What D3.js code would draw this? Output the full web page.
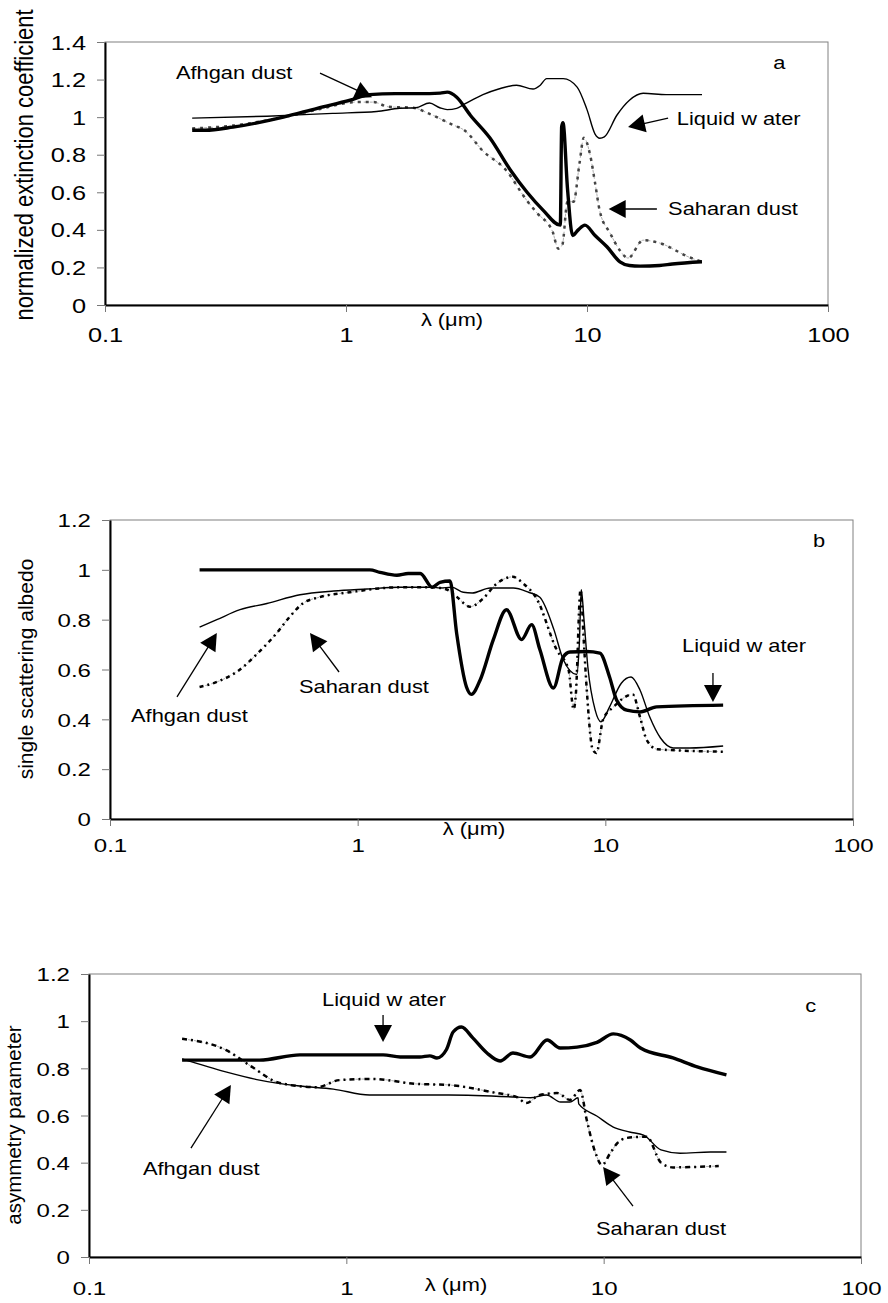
<!DOCTYPE html>
<html>
<head>
<meta charset="utf-8">
<script src="https://cdnjs.cloudflare.com/ajax/libs/d3/7.8.5/d3.min.js"></script>
<style>
  body { margin: 0; background: #fff; }
  svg { display: block; font-family: "Liberation Sans", Arial, sans-serif; }
</style>
</head>
<body>
<div id="chart"></div>
<script>

// panel a - normalized extinction coefficient
var extThick = [[0.23,0.93],[0.26,0.93],[0.34,0.947],[0.55,1.0],[0.76,1.047],[1.04,1.09],[1.25,1.12],[1.6,1.125],[2.0,1.125],
  [2.46,1.128],[2.63,1.133],[2.88,1.106],[3.28,1.01],[3.95,0.89],[4.8,0.72],[5.64,0.6],[6.57,0.505],[7.75,0.425],
  [7.85,0.95],[7.95,0.97],[8.3,0.62],[8.72,0.37],[9.2,0.4],[9.8,0.425],[10.8,0.37],[12.1,0.31],[13.7,0.23],
  [15.0,0.21],[16.6,0.207],[20,0.21],[22.6,0.218],[30,0.23]];
var extThin = [[0.23,0.995],[0.47,1.005],[0.88,1.02],[1.34,1.03],[1.67,1.047],[1.95,1.05],[2.22,1.075],[2.45,1.05],
  [2.63,1.04],[2.88,1.047],[3.11,1.07],[3.7,1.12],[4.3,1.15],[5.1,1.17],[5.97,1.15],[6.4,1.17],[6.8,1.205],[7.97,1.205],
  [9.1,1.16],[10,1.04],[10.8,0.91],[11.3,0.888],[11.8,0.895],[13.3,1.01],[15.0,1.09],[17.1,1.127],[21.3,1.12],[30,1.12]];
var extDotted = [[0.23,0.94],[0.34,0.955],[0.55,1.0],[0.76,1.04],[1.1,1.08],[1.3,1.08],[1.5,1.055],[1.9,1.05],[2.2,1.02],
  [2.76,0.96],[3.1,0.93],[3.7,0.82],[4.6,0.72],[5.6,0.56],[6.2,0.49],[7.2,0.39],[7.6,0.3],[7.9,0.32],[8.3,0.55],
  [8.8,0.55],[9.3,0.75],[9.7,0.89],[10.3,0.8],[10.8,0.65],[11.3,0.5],[12.5,0.38],[13.7,0.29],[14.8,0.25],[17.1,0.345],
  [20,0.33],[26.5,0.255],[30,0.23]];

// panel b - single scattering albedo
var albThick = [[0.23,1.0],[0.6,1.0],[1.12,1.0],[1.23,0.99],[1.44,0.978],[1.6,0.985],[1.79,0.985],[2.0,0.93],[2.15,0.95],
  [2.36,0.955],[2.51,0.745],[2.75,0.53],[2.88,0.5],[3.12,0.557],[3.53,0.72],[3.99,0.84],[4.59,0.72],[5.04,0.78],
  [5.44,0.68],[6.17,0.526],[6.76,0.65],[7.2,0.67],[8.4,0.672],[9.5,0.666],[10.4,0.57],[11.1,0.478],[12.2,0.437],
  [13.8,0.43],[16.1,0.45],[29.9,0.457]];
var albThin = [[0.23,0.77],[0.27,0.8],[0.335,0.84],[0.43,0.865],[0.585,0.9],[0.8,0.915],[1.09,0.923],[1.48,0.93],[2.0,0.93],
  [2.15,0.927],[2.4,0.93],[2.67,0.91],[2.9,0.907],[3.43,0.927],[4.25,0.927],[4.9,0.91],[5.44,0.89],[6.2,0.76],[6.76,0.64],
  [7.67,0.58],[7.85,0.7],[8.0,0.92],[8.2,0.8],[8.5,0.61],[9.1,0.437],[9.6,0.39],[10.4,0.45],[11.6,0.545],[12.7,0.57],
  [13.8,0.518],[15.1,0.41],[16.7,0.325],[18.8,0.285],[21.9,0.285],[29.9,0.293]];
var albDotted = [[0.23,0.53],[0.27,0.55],[0.335,0.6],[0.39,0.66],[0.47,0.745],[0.53,0.81],[0.6,0.865],[0.7,0.89],[0.93,0.91],
  [1.48,0.93],[2.0,0.93],[2.3,0.92],[2.51,0.892],[2.84,0.852],[3.22,0.886],[3.6,0.94],[4.23,0.972],[4.65,0.946],
  [5.27,0.886],[6.37,0.678],[7.1,0.6],[7.45,0.44],[7.6,0.5],[7.94,0.92],[8.2,0.7],[8.4,0.53],[8.9,0.277],[9.2,0.265],
  [9.8,0.4],[10.8,0.45],[12.9,0.5],[13.8,0.41],[14.7,0.317],[16.2,0.28],[29.9,0.27]];

// panel c - asymmetry parameter
var asyThick = [[0.23,0.835],[0.46,0.835],[0.66,0.857],[1.39,0.857],[1.62,0.848],[1.93,0.848],[2.11,0.853],[2.25,0.844],
  [2.45,0.88],[2.6,0.954],[2.8,0.975],[3.1,0.929],[3.52,0.865],[3.96,0.831],[4.44,0.865],[5.18,0.848],[6.03,0.92],
  [6.77,0.886],[7.88,0.89],[9.42,0.91],[10.9,0.946],[12.7,0.92],[13.9,0.886],[18.6,0.844],[23.1,0.806],[30,0.772]];
var asyThin = [[0.23,0.84],[0.34,0.785],[0.46,0.75],[0.66,0.725],[0.89,0.712],[1.23,0.687],[2.5,0.687],[4.6,0.678],
  [5.2,0.675],[6.0,0.687],[6.8,0.657],[7.4,0.657],[7.95,0.675],[8.0,0.649],[9.4,0.598],[10.9,0.551],[12.6,0.53],
  [14.3,0.517],[16.7,0.454],[19.8,0.44],[26,0.445],[30,0.445]];
var asyDotted = [[0.23,0.925],[0.34,0.878],[0.43,0.806],[0.55,0.738],[0.77,0.72],[0.94,0.75],[1.27,0.755],[1.87,0.734],
  [2.46,0.73],[3.85,0.695],[4.6,0.678],[5.0,0.653],[5.65,0.687],[6.6,0.695],[7.4,0.666],[8.1,0.708],[8.6,0.58],
  [9.3,0.44],[9.85,0.39],[10.6,0.44],[11.3,0.483],[12.3,0.505],[14.7,0.51],[16.7,0.4],[18.6,0.38],[28,0.386]];

// ticks and texts
var xTickValues = [0.1, 1, 10, 100];
var xTickLabels = ["0.1", "1", "10", "100"];
var yTicksExt = [0, 0.2, 0.4, 0.6, 0.8, 1, 1.2, 1.4];
var yTicksAlb = [0, 0.2, 0.4, 0.6, 0.8, 1, 1.2];
var yTicksAsy = [0, 0.2, 0.4, 0.6, 0.8, 1, 1.2];
var yTitles = ["normalized extinction coefficient", "single scattering albedo", "asymmetry parameter"];
var xTitle = "\u03bb (\u03bcm)";
var panelLetters = ["a", "b", "c"];
var names = { afghan: "Afhgan dust", sahara: "Saharan dust", water: "Liquid w ater" };

// ---- layout ----
var W = 888, H = 1303;
var svg = d3.select("#chart").append("svg")
  .attr("width", W)
  .attr("height", H);
svg.append("rect").attr("width", W).attr("height", H).attr("fill", "#fff");

var panels = [
  { left: 105, right: 828, top: 42, bottom: 305, ymax: 1.4, yTicks: yTicksExt,
    thick: extThick, thin: extThin, dotted: extDotted, dotColor: "#444", dotDash: "3,5",
    title: yTitles[0], titleX: 33, titleY: 165, titleSize: 22, titleStretch: 1.2,
    font: 18.5, stretch: 1.18, tickDy: 37, lambdaX: 452, lambdaDy: 21,
    letter: panelLetters[0], letterAt: [59.2, 1.255],
    notes: [
      { text: names.afghan, at: [0.197, 1.202], from: [0.78, 1.234], to: [1.282, 1.106] },
      { text: names.water, at: [23.6, 0.957], from: [21.7, 0.995], to: [14.8, 0.947] },
      { text: names.sahara, at: [21.7, 0.479], from: [19.5, 0.511], to: [12.3, 0.511] }
    ] },
  { left: 110, right: 853, top: 520, bottom: 819, ymax: 1.2, yTicks: yTicksAlb,
    thick: albThick, thin: albThin, dotted: albDotted, dotColor: "#000", dotDash: "4,4,2,4",
    title: yTitles[1], titleX: 33, titleY: 669, titleSize: 21, titleStretch: 1,
    font: 17.5, stretch: 1.25, tickDy: 33, lambdaX: 474, lambdaDy: 16,
    letter: panelLetters[1], letterAt: [68.9, 1.091],
    notes: [
      { text: names.afghan, at: [0.1216, 0.389], from: [0.1864, 0.49], to: [0.27, 0.746] },
      { text: names.sahara, at: [0.579, 0.506], from: [0.841, 0.59], to: [0.642, 0.746] },
      { text: names.water, at: [20.4, 0.670], from: [27.2, 0.586], to: [27.2, 0.4695] }
    ] },
  { left: 89, right: 861, top: 974, bottom: 1257, ymax: 1.2, yTicks: yTicksAsy,
    thick: asyThick, thin: asyThin, dotted: asyDotted, dotColor: "#000", dotDash: "5,4,2,4",
    title: yTitles[2], titleX: 21, titleY: 1125, titleSize: 20.5, titleStretch: 1,
    font: 17.5, stretch: 1.25, tickDy: 38, lambdaX: 456, lambdaDy: 34,
    letter: panelLetters[2], letterAt: [60.7, 1.039],
    notes: [
      { text: names.water, at: [0.805, 1.064], from: [1.389, 1.026], to: [1.389, 0.912] },
      { text: names.afghan, at: [0.162, 0.348], from: [0.249, 0.462], to: [0.356, 0.729] },
      { text: names.sahara, at: [9.34, 0.0933], from: [13.0, 0.216], to: [9.95, 0.382] }
    ] }
];

// arrow with filled triangular head, tip at (x2,y2)
function drawArrow(g, x1, y1, x2, y2) {
  var len = 17, half = 9;
  var dx = x2 - x1, dy = y2 - y1, d = Math.sqrt(dx * dx + dy * dy);
  var ux = dx / d, uy = dy / d;
  var bx = x2 - ux * len, by = y2 - uy * len;
  g.append("line")
    .attr("x1", x1).attr("y1", y1).attr("x2", bx + ux * 2).attr("y2", by + uy * 2)
    .attr("stroke", "#000").attr("stroke-width", 1.3);
  g.append("path")
    .attr("d", "M" + x2 + "," + y2 +
      "L" + (bx - uy * half) + "," + (by + ux * half) +
      "L" + (bx + uy * half) + "," + (by - ux * half) + "Z")
    .attr("fill", "#000");
}

panels.forEach(function (p) {
  var x = d3.scaleLog().domain([0.1, 100]).range([p.left, p.right]);
  var y = d3.scaleLinear().domain([0, p.ymax]).range([p.bottom, p.top]);
  var g = svg.append("g");

  // plot area border (grey top / right)
  g.append("rect")
    .attr("x", p.left).attr("y", p.top)
    .attr("width", p.right - p.left).attr("height", p.bottom - p.top)
    .attr("fill", "none").attr("stroke", "#808080").attr("stroke-width", 1);

  // y axis
  var yAxis = g.append("g")
    .attr("transform", "translate(" + p.left + ",0)")
    .call(d3.axisLeft(y).tickValues(p.yTicks).tickSizeInner(8).tickSizeOuter(0)
      .tickFormat(function (d) { return String(d); }));
  yAxis.attr("font-family", null).attr("font-size", p.font + 1);
  yAxis.select(".domain").attr("stroke", "#000").attr("stroke-width", 2);
  yAxis.selectAll(".tick line").attr("stroke", "#777");
  yAxis.selectAll(".tick text")
    .attr("x", null).attr("dy", "0.36em")
    .attr("transform", "translate(-19,0) scale(1.3,1)")
    .attr("fill", "#000");

  // x axis
  var xAxis = g.append("g")
    .attr("transform", "translate(0," + p.bottom + ")")
    .call(d3.axisBottom(x).tickValues(xTickValues).tickSizeInner(7).tickSizeOuter(0)
      .tickFormat(function (d, i) { return xTickLabels[i]; }));
  xAxis.attr("font-family", null).attr("font-size", p.font + 1);
  xAxis.select(".domain").attr("stroke", "#000").attr("stroke-width", 2);
  xAxis.selectAll(".tick line").attr("stroke", "#777");
  xAxis.selectAll(".tick text")
    .attr("y", null).attr("dy", null)
    .attr("transform", "translate(0," + p.tickDy + ") scale(1.3,1)")
    .attr("fill", "#000");

  // axis titles
  g.append("text")
    .attr("transform", "translate(" + p.lambdaX + "," + (p.bottom + p.lambdaDy) + ") scale(" + p.stretch + ",1)")
    .attr("text-anchor", "middle")
    .attr("font-size", p.font)
    .text(xTitle);
  g.append("text")
    .attr("transform", "translate(" + p.titleX + "," + p.titleY + ") rotate(-90) scale(1," + p.titleStretch + ")")
    .attr("text-anchor", "middle")
    .attr("font-size", p.titleSize)
    .text(p.title);

  // curves
  var line = d3.line()
    .x(function (d) { return x(d[0]); })
    .y(function (d) { return y(d[1]); })
    .curve(d3.curveMonotoneX);

  g.append("path").datum(p.dotted)
    .attr("d", line).attr("fill", "none")
    .attr("stroke", "#999").attr("stroke-width", 0.8).attr("stroke-dasharray", "3,3");
  g.append("path").datum(p.dotted)
    .attr("d", line).attr("fill", "none")
    .attr("stroke", p.dotColor).attr("stroke-width", 2.5).attr("stroke-dasharray", p.dotDash);
  g.append("path").datum(p.thin)
    .attr("d", line).attr("fill", "none")
    .attr("stroke", "#000").attr("stroke-width", 1.4);
  g.append("path").datum(p.thick)
    .attr("d", line).attr("fill", "none")
    .attr("stroke", "#000").attr("stroke-width", 3.4)
    .attr("stroke-linejoin", "round");

  // annotations
  p.notes.forEach(function (n) {
    g.append("text")
      .attr("transform", "translate(" + x(n.at[0]) + "," + y(n.at[1]) + ") scale(" + p.stretch + ",1)")
      .attr("font-size", p.font)
      .text(n.text);
    drawArrow(g, x(n.from[0]), y(n.from[1]), x(n.to[0]), y(n.to[1]));
  });

  g.append("text")
    .attr("transform", "translate(" + x(p.letterAt[0]) + "," + y(p.letterAt[1]) + ") scale(" + p.stretch + ",1)")
    .attr("font-size", p.font)
    .text(p.letter);
});
</script>
</body>
</html>
